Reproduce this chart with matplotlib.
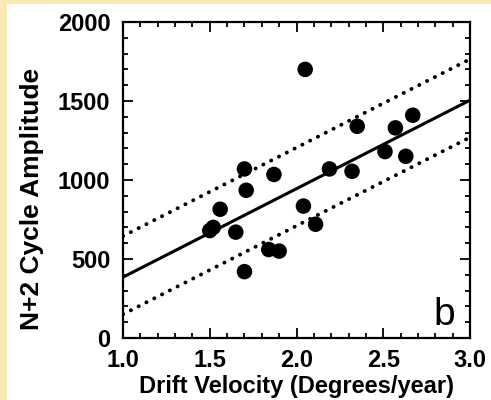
import matplotlib
matplotlib.use("Agg")
import matplotlib.pyplot as plt
from matplotlib.ticker import MultipleLocator
from matplotlib.patches import Rectangle
import numpy as np

plt.rcParams['font.family'] = ['Liberation Sans', 'DejaVu Sans']

# Observed cycles: drift velocity vs amplitude of cycle N+2
drift_velocity = [2.05, 2.35, 2.67, 2.57, 2.51, 2.63, 2.19, 2.32, 1.70, 1.87,
                  1.71, 1.56, 1.50, 1.52, 1.65, 2.04, 2.11, 1.84, 1.90, 1.70]
amplitude = [1700, 1340, 1410, 1330, 1180, 1150, 1070, 1055, 1070, 1035,
             935, 815, 680, 700, 670, 835, 720, 560, 550, 420]

# Linear fit and its +/- band
fit_intercept = -175.0
fit_slope = 560.0
band_upper = 260.0
band_lower = -235.0

fig = plt.figure(figsize=(4.91, 4.00), dpi=100, facecolor='white')
# cream page edges
fig.patches.append(Rectangle((0, 0), 7 / 491, 1, transform=fig.transFigure,
                             facecolor='#f9e9b4', edgecolor='none', zorder=0))
fig.patches.append(Rectangle((0, 1 - 4 / 400), 1, 4 / 400, transform=fig.transFigure,
                             facecolor='#f9e9b4', edgecolor='none', zorder=0))

ax = fig.add_axes([123 / 491, 62 / 400, 347 / 491, 316 / 400])

xs = np.array([1.0, 3.0])
ax.plot(xs, fit_intercept + fit_slope * xs, color='black', lw=2.2, solid_capstyle='butt')
for off in (band_upper, band_lower):
    ax.plot(xs, fit_intercept + off + fit_slope * xs, color='black', lw=2.8,
            linestyle=(0, (0.05, 2.2)), dash_capstyle='round')

ax.scatter(drift_velocity, amplitude, s=125, color='black', edgecolors='none', zorder=3)

ax.set_xlim(1.0, 3.0)
ax.set_ylim(0, 2000)
ax.xaxis.set_minor_locator(MultipleLocator(0.1))
ax.yaxis.set_minor_locator(MultipleLocator(100))
ax.set_xticks([1.0, 1.5, 2.0, 2.5, 3.0])
ax.set_xticklabels(['1.0', '1.5', '2.0', '2.5', '3.0'])
ax.set_yticks([0, 500, 1000, 1500, 2000])
ax.set_yticklabels(['0', '500', '1000', '1500', '2000'])

ax.tick_params(which='both', direction='in', top=True, right=True, width=1.3, color='black')
ax.tick_params(which='major', length=7, labelsize=17)
ax.tick_params(axis='x', which='major', pad=8)
ax.tick_params(axis='y', which='major', pad=9)
ax.tick_params(which='minor', length=3.5)
for lab in ax.get_xticklabels() + ax.get_yticklabels():
    lab.set_fontweight('bold')
for sp in ax.spines.values():
    sp.set_linewidth(1.6)

ax.set_xlabel('Drift Velocity (Degrees/year)', fontsize=17, fontweight='bold', labelpad=2)
ax.set_ylabel('N+2 Cycle Amplitude', fontsize=19, fontweight='bold')
ax.yaxis.set_label_coords(-0.228, 0.44)

ax.text(0.957, 0.041, 'b', transform=ax.transAxes, fontsize=28, ha='right', va='baseline')

fig.savefig('out.png', dpi=100, facecolor=fig.get_facecolor())
